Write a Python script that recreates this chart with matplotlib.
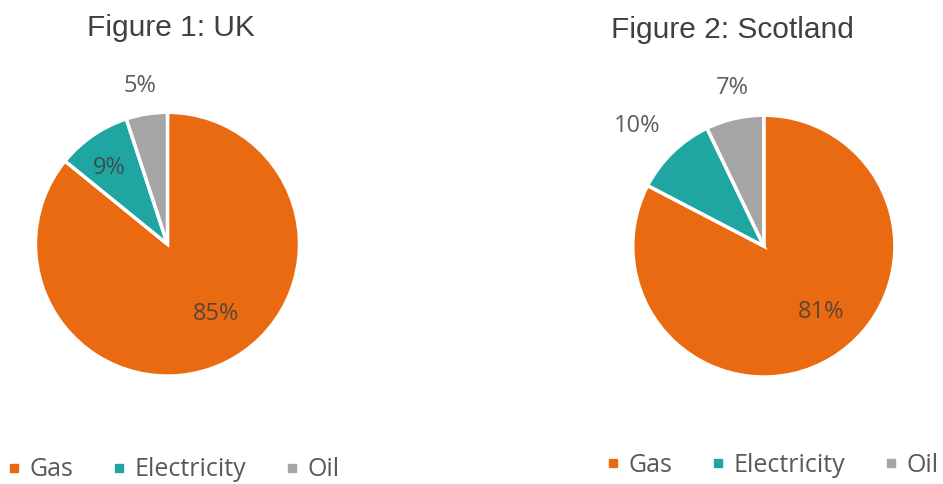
import matplotlib.pyplot as plt
from matplotlib.lines import Line2D

categories = ["Gas", "Electricity", "Oil"]
uk_values = [85, 9, 5]
scot_values = [81, 10, 7]
uk_labels = ["85%", "9%", "5%"]
scot_labels = ["81%", "10%", "7%"]

colors = ["#EA6A12", "#1FA6A2", "#A5A5A5"]
text_col = "#404040"

fig = plt.figure(figsize=(9.43, 4.84), dpi=100)


def draw_pie(rect, values, labels, label_pos, title, title_xy, legend_xy):
    ax = fig.add_axes(rect)
    ax.pie(values, colors=colors, startangle=90, counterclock=False,
           wedgeprops=dict(edgecolor="white", linewidth=2.5))
    ax.set_xlim(-1, 1)
    ax.set_ylim(-1, 1)
    ax.set_aspect("auto")
    for lab, (x, y) in zip(labels, label_pos):
        ax.text(x, y, lab, ha="center", va="center", fontsize=17,
                color=text_col, alpha=0.85, family="Open Sans")
    fig.text(title_xy[0], title_xy[1], title, ha="center", va="center",
             fontsize=21.5, color=text_col, family="Liberation Sans")
    handles = [Line2D([], [], marker="s", linestyle="", markersize=5.5,
                      markerfacecolor=c, markeredgecolor=c) for c in colors]
    fig.legend(handles, categories, loc="center left", bbox_to_anchor=legend_xy,
               ncol=3, frameon=False, handlelength=0.6, handletextpad=0.35,
               columnspacing=1.5, borderpad=0, borderaxespad=0,
               prop=dict(family="Open Sans", size=18),
               labelcolor="#595959")
    return ax


draw_pie([0.0376, 0.223, 0.280, 0.545], uk_values, uk_labels,
         [(0.37, -0.53), (-0.44, 0.58), (-0.21, 1.20)],
         "Figure 1: UK", (171 / 943, 1 - 28 / 484), (6 / 943, 1 - 470 / 484))
draw_pie([0.671, 0.221, 0.278, 0.541], scot_values, scot_labels,
         [(0.435, -0.50), (-0.97, 0.92), (-0.24, 1.21)],
         "Figure 2: Scotland", (732 / 943, 1 - 30 / 484), (605 / 943, 1 - 465 / 484))

fig.savefig("out.png", dpi=100)
